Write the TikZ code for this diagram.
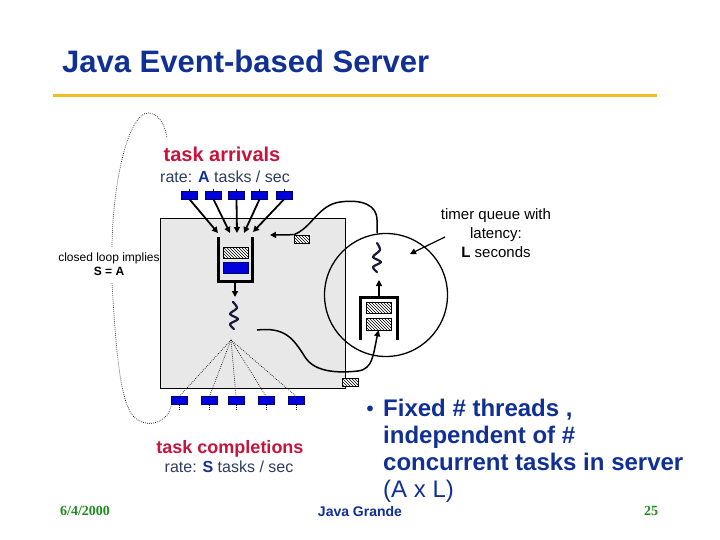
\documentclass[tikz,border=0pt]{standalone}
\usepackage{fontspec}
\setmainfont{Liberation Sans}
\newfontfamily\serifbf{Liberation Serif}
\usetikzlibrary{patterns,arrows.meta}
\definecolor{titleblue}{RGB}{16,48,150}
\definecolor{gold}{RGB}{240,190,30}
\definecolor{taskred}{RGB}{200,20,60}
\definecolor{boxblue}{RGB}{0,0,220}
\definecolor{navy}{RGB}{0,0,110}
\definecolor{ratecol}{RGB}{45,60,95}
\definecolor{datagreen}{RGB}{30,140,30}
\definecolor{panel}{RGB}{232,232,232}
\definecolor{squig}{RGB}{25,25,60}
\tikzset{
  bluebox/.style={draw=navy, fill=boxblue, minimum width=16pt, minimum height=8pt, inner sep=0pt, line width=0.6pt},
  hatchbox/.style={draw=black, fill=white, postaction={pattern=north west lines}, inner sep=0pt, line width=0.6pt},
  arr/.style={line width=1.8pt, -{Triangle[length=6pt,width=6pt]}},
  thinarr/.style={line width=1.5pt, -{Triangle[length=6pt,width=6pt]}},
  qwall/.style={line width=3pt},
  loopdot/.style={line width=0.7pt, dash pattern=on 0.7pt off 1.3pt},
  squiggle/.style={line width=2.2pt, squig, line cap=round, line join=round},
  bline/.style={anchor=base west, font=\fontsize{24}{27}\selectfont\bfseries, text=titleblue, inner sep=0pt},
}
\begin{document}
\begin{tikzpicture}[x=1pt,y=-1pt]
\useasboundingbox (0,0) rectangle (720,540);
\fill[white] (0,0) rectangle (720,540);

% title
\node[anchor=base west, inner sep=0pt, font=\fontsize{31}{36}\selectfont\bfseries, text=titleblue] (title) at (62,73) {Java Event-based Server};
\coordinate (g1) at (53,96);
\coordinate (g2) at (657,96);
\draw[gold, line width=3pt] (g1) -- (g2);

% gray panel
\node[draw, fill=panel, minimum width=185pt, minimum height=170pt, anchor=north west, inner sep=0pt, line width=0.6pt] (panel) at (160,218) {};

% labels
\node[font=\fontsize{20}{24}\selectfont\bfseries, text=taskred, inner sep=0pt] (arrivals) at (222,154) {task arrivals};
\node[font=\fontsize{16}{19}\selectfont, text=ratecol, inner sep=0pt] (arate) at (225,177) {rate: \textbf{\textcolor{titleblue}{A}} tasks / sec};

% top boxes
\foreach \i/\x in {1/189.5,2/213.5,3/236.5,4/259.5,5/284}
  \node[bluebox] (t\i) at (\x,195) {};
\foreach \i in {1,...,5}
  \draw[line width=1pt] (t\i.north) -- ++(0,-2);

% queue 1
\coordinate (q1tl) at (218,237);
\coordinate (q1bl) at (218,281);
\coordinate (q1br) at (252,281);
\coordinate (q1tr) at (252,237);
\draw[qwall] (q1tl) -- (q1bl) -- (q1br) -- (q1tr);
\node[hatchbox, minimum width=25pt, minimum height=11pt] (h1) at (235.5,252.5) {};
\node[bluebox, minimum width=25pt, minimum height=11pt] (qb1) at (235.5,267.5) {};

% arrival arrows
\coordinate (a1) at (218,233);
\coordinate (a2) at (230,233);
\coordinate (a3) at (237,233);
\coordinate (a4) at (244,233);
\coordinate (a5) at (253,232);
\foreach \i in {1,...,5}
  \draw[arr] (t\i.south) -- (a\i);

% down arrow and worker thread
\coordinate (q1bot) at (235,281);
\coordinate (w1top) at (235,297);
\draw[arr] (q1bot) -- (w1top);
\draw[squiggle] plot[smooth] coordinates {(233,302) (237,308) (230,314) (238,319) (230,324) (234,329)};

% fan-out to completions
\coordinate (apex) at (231,340);
\foreach \i/\x in {1/179.5,2/209.5,3/236,4/266,5/296}
  \node[bluebox] (b\i) at (\x,400.5) {};
\foreach \i in {1,...,5}{
  \draw[loopdot] (apex) -- (b\i.north);
  \draw[loopdot] (b\i.south) -- ++(0,5);
}

% hatched box near top-right of panel
\node[hatchbox, minimum width=15pt, minimum height=8pt] (hs1) at (301.5,239) {};
\coordinate (arrin) at (270,235);
\draw[thinarr] (hs1.north west) -- (arrin);

% timer circle
\node[draw, circle, minimum size=123pt, inner sep=0pt, line width=1.3pt] (timer) at (386,295) {};
\draw[line width=1.5pt] (hs1.north west) .. controls (312,228) and (318,205) .. (340,202)
  .. controls (362,199) and (377,205) .. (377,220) -- (timer.north -| 377,0);

% queue 2 inside circle
\coordinate (q2bl) at (360,340);
\coordinate (q2tl) at (360,297);
\coordinate (q2tr) at (397,297);
\coordinate (q2br) at (397,340);
\draw[qwall] (q2bl) -- (q2tl) -- (q2tr) -- (q2br);
\node[hatchbox, minimum width=25pt, minimum height=11pt] (h2) at (378.5,307.5) {};
\node[hatchbox, minimum width=25pt, minimum height=12pt] (h3) at (378.5,324) {};
\coordinate (q2top) at (379,297);
\coordinate (w2bot) at (379,280);
\draw[thinarr] (q2top) -- (w2bot);
\draw[squiggle] plot[smooth] coordinates {(377,243) (380,250) (373,257) (381,262) (373,267) (377,272)};

% curve from panel into timer queue
\coordinate (cstart) at (257,330);
\draw[thinarr] (cstart) .. controls (285,327) and (293,338) .. (305,357)
  .. controls (315,373) and (340,373) .. (358,371)
  .. controls (373,369) and (373,355) .. (h3.south);

% hatched box below panel
\node[hatchbox, minimum width=16pt, minimum height=8pt] (hs2) at (350.5,382) {};

% timer label
\node[font=\fontsize{15}{19}\selectfont, align=center, inner sep=0pt] (tlab) at (496,233) {timer queue with\\latency:\\\textbf{L} seconds};
\coordinate (tarr) at (445,237);
\coordinate (tend) at (410,254);
\draw[line width=1.2pt, -{Triangle[length=6pt,width=6pt]}] (tarr) -- (tend);

% closed loop label and dotted loop
\node[font=\fontsize{12}{14}\selectfont, align=center, inner sep=0pt] (loop) at (109,264) {closed loop implies\\\textbf{S = A}};
\coordinate (lt) at (112,247);
\coordinate (lb) at (112,283);
\coordinate (ltop) at (167,138);
\draw[loopdot] (lt) .. controls (113,175) and (130,113) .. (148,113) .. controls (158,113) and (165,124) .. (ltop);
\draw[loopdot] (lb) .. controls (116,350) and (120,405) .. (135,418) .. controls (150,430) and (170,420) .. (b1.south west);

% completions
\node[font=\fontsize{18}{22}\selectfont\bfseries, text=taskred, inner sep=0pt] (compl) at (230,449) {task completions};
\node[font=\fontsize{16}{19}\selectfont, text=ratecol, inner sep=0pt] (crate) at (229,467) {rate: \textbf{\textcolor{titleblue}{S}} tasks / sec};

% bullet text
\node[font=\fontsize{20}{24}\selectfont\bfseries, text=titleblue, inner sep=0pt] (bul) at (370,411) {•};
\node[bline] (bt1) at (383,416) {Fixed \# threads ,};
\node[bline] (bt2) at (383,443) {independent of \#};
\node[bline] (bt3) at (383,470) {concurrent tasks in server};
\node[bline, font=\fontsize{24}{27}\selectfont\mdseries] (bt4) at (383,497) {(A x L)};

% footer
\node[font=\fontsize{14}{16}\selectfont\serifbf\bfseries, text=datagreen, inner sep=0pt] (date) at (85,511) {6/4/2000};
\node[font=\fontsize{14}{16}\selectfont\bfseries, text=titleblue, inner sep=0pt] (conf) at (360,511) {Java Grande};
\node[font=\fontsize{14}{16}\selectfont\serifbf\bfseries, text=datagreen, inner sep=0pt] (page) at (651,511) {25};
\end{tikzpicture}
\end{document}
